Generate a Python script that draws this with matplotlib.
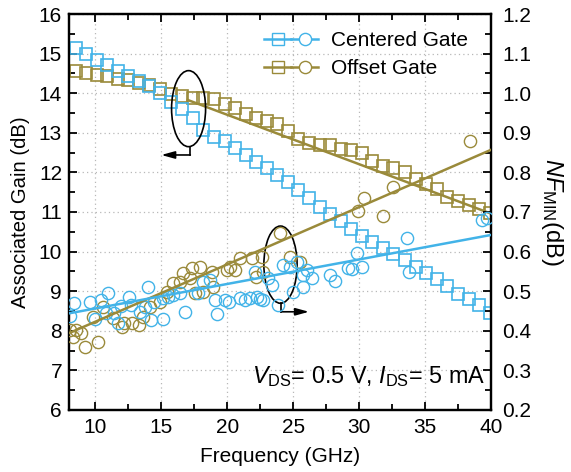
import matplotlib
matplotlib.use("Agg")
import matplotlib.pyplot as plt
from matplotlib.patches import Ellipse
from matplotlib.lines import Line2D
from matplotlib.legend_handler import HandlerTuple
from matplotlib.ticker import MultipleLocator

plt.rcParams['font.family'] = ['Liberation Sans', 'DejaVu Sans']
plt.rcParams['mathtext.fontset'] = 'custom'
plt.rcParams['mathtext.rm'] = 'Liberation Sans'
plt.rcParams['mathtext.it'] = 'Liberation Sans:italic'
plt.rcParams['mathtext.bf'] = 'Liberation Sans:bold'

BLUE = '#42B3E8'
OLIVE = '#9A8A3A'

# ---------------- data ----------------
freq_sq = [8.5, 9.3, 10.1, 10.9, 11.7, 12.5, 13.3, 14.1, 14.9, 15.7,
           16.6, 17.4, 18.2, 19.0, 19.8, 20.6, 21.4, 22.2, 23.0, 23.8,
           24.6, 25.4, 26.2, 27.0, 27.8, 28.6, 29.4, 30.2, 31.0, 31.8,
           32.6, 33.5, 34.3, 35.1, 35.9, 36.7, 37.5, 38.3, 39.1, 39.9]
gain_centered = [15.15, 15.0, 14.85, 14.7, 14.55, 14.43, 14.3, 14.18, 14.0, 13.78,
                 13.6, 13.38, 13.08, 12.9, 12.8, 12.62, 12.45, 12.27, 12.1, 11.93,
                 11.76, 11.56, 11.35, 11.13, 10.94, 10.78, 10.57, 10.4, 10.25, 10.1,
                 9.95, 9.8, 9.6, 9.46, 9.3, 9.13, 8.93, 8.8, 8.65, 8.45]
gain_offset = [14.55, 14.5, 14.47, 14.43, 14.37, 14.33, 14.25, 14.2, 14.1, 13.98,
               13.92, 13.88, 13.88, 13.86, 13.72, 13.62, 13.48, 13.38, 13.3, 13.22,
               13.05, 12.85, 12.75, 12.7, 12.68, 12.6, 12.57, 12.5, 12.28, 12.15,
               12.1, 12.0, 11.83, 11.7, 11.57, 11.38, 11.27, 11.18, 11.08, 10.97]

freq_nf_centered = [8.08, 8.38, 9.59, 9.97, 10.42, 10.80, 10.95, 11.41, 11.71, 11.94,
                    12.55, 12.70, 13.38, 13.76, 13.98, 14.21, 14.44, 15.12, 15.12, 15.50,
                    15.88, 16.41, 16.79, 17.77, 18.15, 18.68, 19.06, 19.21, 19.82, 20.12,
                    20.95, 21.33, 21.71, 22.09, 22.24, 22.47, 22.70, 23.08, 23.38, 23.83,
                    24.21, 24.74, 24.97, 25.27, 25.73, 25.73, 26.03, 26.41, 27.77, 28.15,
                    29.14, 29.44, 29.82, 30.20, 33.61, 33.76, 39.29, 39.67]
nf_centered = [0.437, 0.470, 0.473, 0.430, 0.478, 0.445, 0.495, 0.445, 0.420, 0.463,
               0.485, 0.465, 0.447, 0.460, 0.511, 0.427, 0.473, 0.430, 0.483, 0.485,
               0.490, 0.495, 0.447, 0.495, 0.523, 0.528, 0.478, 0.442, 0.478, 0.473,
               0.483, 0.478, 0.483, 0.548, 0.485, 0.480, 0.478, 0.533, 0.516, 0.465,
               0.566, 0.561, 0.498, 0.574, 0.541, 0.511, 0.554, 0.533, 0.541, 0.526,
               0.559, 0.556, 0.596, 0.561, 0.634, 0.548, 0.680, 0.685]

freq_nf_offset = [8.08, 8.30, 8.53, 8.91, 9.21, 9.82, 10.20, 10.58, 11.33, 12.02,
                  12.17, 12.77, 13.30, 13.61, 14.14, 14.89, 15.42, 15.88, 16.41, 16.64,
                  17.17, 17.32, 17.55, 17.92, 18.15, 18.83, 18.91, 19.97, 20.20, 20.58,
                  20.95, 21.86, 22.17, 22.62, 22.70, 23.98, 24.74, 25.50, 29.89, 30.35,
                  31.79, 32.55, 38.38]
nf_offset = [0.402, 0.384, 0.402, 0.394, 0.359, 0.435, 0.372, 0.460, 0.432, 0.410,
             0.420, 0.420, 0.415, 0.435, 0.460, 0.473, 0.498, 0.521, 0.523, 0.546,
             0.533, 0.559, 0.495, 0.561, 0.498, 0.548, 0.511, 0.554, 0.561, 0.554,
             0.584, 0.584, 0.536, 0.586, 0.548, 0.647, 0.586, 0.574, 0.703, 0.735,
             0.690, 0.763, 0.879]

fit_nf_x = [8, 40]
fit_nf_centered = [0.444, 0.642]
fit_nf_offset = [0.394, 0.857]
fit_gain_offset_x = [17, 40]
fit_gain_offset = [13.83, 10.96]

labels = ['Centered Gate', 'Offset Gate']

# ---------------- figure ----------------
fig = plt.figure(figsize=(5.71, 4.72), dpi=100)
ax = fig.add_axes([0.1208, 0.1314, 0.739, 0.8389])
ax2 = ax.twinx()

ax.set_xlim(8, 40)
ax.set_ylim(6, 16)
ax2.set_ylim(0.2, 1.2)

ax.xaxis.set_major_locator(MultipleLocator(5))
ax.xaxis.set_minor_locator(MultipleLocator(2.5))
ax.yaxis.set_major_locator(MultipleLocator(1))
ax.yaxis.set_minor_locator(MultipleLocator(0.5))
ax2.yaxis.set_major_locator(MultipleLocator(0.1))
ax2.yaxis.set_minor_locator(MultipleLocator(0.05))
ax2.yaxis.set_major_formatter(matplotlib.ticker.FormatStrFormatter('%.1f'))

ax.grid(True, which='major', linestyle=(0, (1, 2.5)), color='#b8b8b8', linewidth=0.9)
ax.set_axisbelow(True)

for a in (ax, ax2):
    a.tick_params(which='both', direction='in', width=1.3, labelsize=15)
    a.tick_params(which='major', length=6)
    a.tick_params(which='minor', length=4)
    for s in a.spines.values():
        s.set_linewidth(1.6)
ax.tick_params(which='both', top=True, right=False)
ax.tick_params(axis='x', pad=6)
ax.tick_params(axis='y', pad=5)
ax2.tick_params(which='both', right=True, left=False, pad=8)

# Gain squares
ax.plot(freq_sq, gain_offset, linestyle='none', marker='s', markersize=8.6,
        markerfacecolor='none', markeredgecolor=OLIVE, markeredgewidth=1.2, zorder=3)
ax.plot(freq_sq, gain_centered, linestyle='none', marker='s', markersize=8.6,
        markerfacecolor='none', markeredgecolor=BLUE, markeredgewidth=1.2, zorder=3)
ax.plot(fit_gain_offset_x, fit_gain_offset, color=OLIVE, linewidth=1.8, zorder=4)

# NF circles
ax2.plot(freq_nf_offset, nf_offset, linestyle='none', marker='o', markersize=8.8,
         markerfacecolor='none', markeredgecolor=OLIVE, markeredgewidth=1.0, zorder=3)
ax2.plot(freq_nf_centered, nf_centered, linestyle='none', marker='o', markersize=8.8,
         markerfacecolor='none', markeredgecolor=BLUE, markeredgewidth=1.0, zorder=3)
ax2.plot(fit_nf_x, fit_nf_offset, color=OLIVE, linewidth=1.8, zorder=4)
ax2.plot(fit_nf_x, fit_nf_centered, color=BLUE, linewidth=1.8, zorder=4)

# Ellipses and arrows (in gain coordinates)
ax.add_patch(Ellipse((17.07, 13.61), 2.58, 1.92, fill=False, edgecolor='k', linewidth=1.2, zorder=5))
ax.plot([17.15, 17.15], [12.65, 12.44], color='k', linewidth=1.2, zorder=5)
ax.annotate('', xy=(15.0, 12.44), xytext=(17.2, 12.44),
            arrowprops=dict(arrowstyle='-|>,head_length=0.8,head_width=0.22', color='k', lw=1.2,
                            shrinkA=0, shrinkB=0), zorder=5)

ax.add_patch(Ellipse((24.04, 9.67), 2.52, 1.95, fill=False, edgecolor='k', linewidth=1.2, zorder=5))
ax.plot([24.11, 24.11], [8.69, 8.48], color='k', linewidth=1.2, zorder=5)
ax.annotate('', xy=(26.2, 8.48), xytext=(24.05, 8.48),
            arrowprops=dict(arrowstyle='-|>,head_length=0.8,head_width=0.22', color='k', lw=1.2,
                            shrinkA=0, shrinkB=0), zorder=5)

# Legend
hc_s = Line2D([], [], color=BLUE, marker='s', markersize=8.6, markerfacecolor='none', lw=1.8, markeredgewidth=1.0)
hc_o = Line2D([], [], color=BLUE, marker='o', markersize=8.8, markerfacecolor='white', lw=1.8, markeredgewidth=1.0)
ho_s = Line2D([], [], color=OLIVE, marker='s', markersize=8.6, markerfacecolor='none', lw=1.8, markeredgewidth=1.0)
ho_o = Line2D([], [], color=OLIVE, marker='o', markersize=8.8, markerfacecolor='white', lw=1.8, markeredgewidth=1.0)
ax2.legend([(hc_s, hc_o), (ho_s, ho_o)], labels,
           handler_map={tuple: HandlerTuple(ndivide=None, pad=0)},
           loc='upper left', bbox_to_anchor=(0.422, 1.0), frameon=False,
           fontsize=15, handlelength=2.6, handletextpad=0.6, labelspacing=0.42,
           borderaxespad=0.42)

# Text
ax.text(39.6, 6.68, r'$\mathit{V}_{\mathrm{DS}}$= 0.5 V, $\mathit{I}_{\mathrm{DS}}$= 5 mA',
        ha='right', va='baseline', fontsize=16.8, zorder=6)

ax.set_xlabel('Frequency (GHz)', fontsize=15, labelpad=7)
ax.set_ylabel('Associated Gain (dB)', fontsize=14.6, labelpad=6)
ax2.set_ylabel(r'$\mathit{NF}_{\mathrm{MIN}}$(dB)', fontsize=17, rotation=270, labelpad=24)

fig.savefig('out.png', dpi=100)
